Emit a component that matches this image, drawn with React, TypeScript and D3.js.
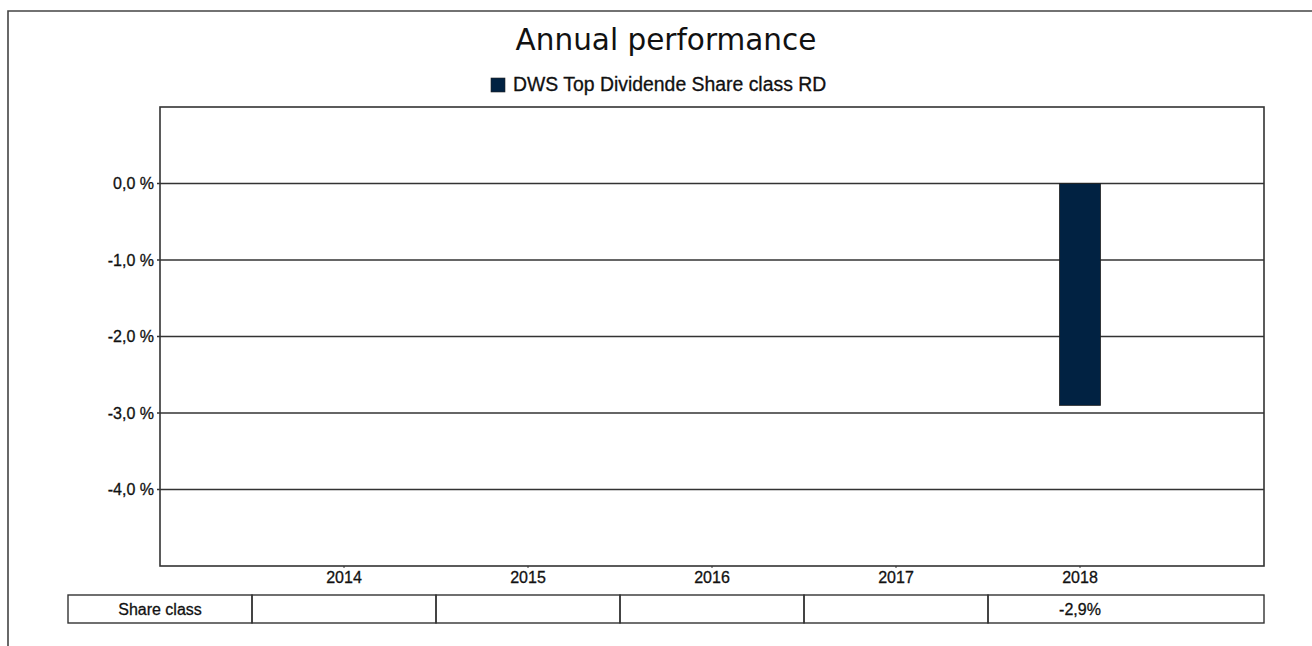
import { useEffect, useRef } from "react";
import * as d3 from "d3";

const years = ["2014", "2015", "2016", "2017", "2018"];
const shareClass: (number | null)[] = [null, null, null, null, -2.9];
const yTicks = [0, -1, -2, -3, -4];
const yDomain: [number, number] = [-5, 1];
const seriesName = "DWS Top Dividende Share class RD";
const rowLabel = "Share class";
const title = "Annual performance";

const W = 1312;
const H = 646;

export default function App() {
  const svgRef = useRef<SVGSVGElement>(null);

  useEffect(() => {
    if (!svgRef.current) return;
    const svg = d3.select(svgRef.current);
    svg.selectAll("*").remove();

    const plot = { left: 160, right: 1264, top: 107, bottom: 566 };
    const arial = "'Liberation Sans', Arial, sans-serif";
    const barColor = "#012242";
    const lineColor = "#333";
    const textColor = "#111";

    const x = d3.scalePoint<string>().domain(years).range([plot.left, plot.right]).padding(1);
    const step = x.step();
    const y = d3.scaleLinear().domain(yDomain).range([plot.bottom, plot.top]);

    // outer frame (top + left only)
    svg.append("path")
      .attr("d", `M8,${H} V11 H${W}`)
      .attr("fill", "none")
      .attr("stroke", "#444")
      .attr("stroke-width", 1.6);

    svg.append("text")
      .attr("x", 666)
      .attr("y", 50)
      .attr("text-anchor", "middle")
      .attr("font-family", "'DejaVu Sans', Verdana, sans-serif")
      .attr("font-size", 29.5)
      .attr("fill", textColor)
      .text(title);

    // legend
    svg.append("rect")
      .attr("x", 491).attr("y", 78).attr("width", 14).attr("height", 14)
      .attr("fill", barColor).attr("stroke", "#222").attr("stroke-width", 0.6);
    svg.append("text")
      .attr("x", 513).attr("y", 91)
      .attr("font-family", arial).attr("font-size", 19.4).attr("fill", textColor)
      .attr("stroke", textColor).attr("stroke-width", 0.3)
      .text(seriesName);

    // gridlines + y labels
    const yAxis = svg.append("g");
    yAxis.selectAll("line")
      .data(yTicks)
      .enter()
      .append("line")
      .attr("x1", plot.left - 3)
      .attr("x2", plot.right)
      .attr("y1", (d) => y(d))
      .attr("y2", (d) => y(d))
      .attr("stroke", lineColor)
      .attr("stroke-width", 1.4);
    yAxis.selectAll("text")
      .data(yTicks)
      .enter()
      .append("text")
      .attr("x", plot.left - 6)
      .attr("y", (d) => y(d))
      .attr("dy", "0.35em")
      .attr("text-anchor", "end")
      .attr("font-family", arial)
      .attr("font-size", 16)
      .attr("fill", textColor)
      .attr("stroke", textColor)
      .attr("stroke-width", 0.3)
      .text((d) => d3.format(".1f")(d).replace("−", "-").replace(".", ",") + " %");

    // plot frame
    svg.append("rect")
      .attr("x", plot.left).attr("y", plot.top)
      .attr("width", plot.right - plot.left).attr("height", plot.bottom - plot.top)
      .attr("fill", "none").attr("stroke", lineColor).attr("stroke-width", 1.6);

    // bars
    const barW = 41;
    svg.append("g")
      .selectAll("rect")
      .data(years.map((yr, i) => ({ yr, v: shareClass[i] })).filter((d) => d.v != null))
      .enter()
      .append("rect")
      .attr("x", (d) => (x(d.yr) as number) - barW / 2)
      .attr("y", (d) => Math.min(y(0), y(d.v as number)))
      .attr("width", barW)
      .attr("height", (d) => Math.abs(y(d.v as number) - y(0)))
      .attr("fill", barColor)
      .attr("stroke", "#222")
      .attr("stroke-width", 0.8);

    // x labels + ticks
    const xAxis = svg.append("g");
    xAxis.selectAll("line")
      .data(years)
      .enter()
      .append("line")
      .attr("x1", (d) => x(d) as number)
      .attr("x2", (d) => x(d) as number)
      .attr("y1", plot.bottom)
      .attr("y2", plot.bottom + 2)
      .attr("stroke", lineColor);
    xAxis.selectAll("text")
      .data(years)
      .enter()
      .append("text")
      .attr("x", (d) => x(d) as number)
      .attr("y", 583)
      .attr("text-anchor", "middle")
      .attr("font-family", arial)
      .attr("font-size", 16)
      .attr("fill", textColor)
      .attr("stroke", textColor)
      .attr("stroke-width", 0.3)
      .text((d) => d);

    // data table
    const rowTop = 595;
    const rowH = 28;
    const cells = [
      { x0: plot.left - step / 2, x1: plot.left + step / 2, cx: plot.left, label: rowLabel },
      ...years.map((yr, i) => {
        const cx = x(yr) as number;
        const v = shareClass[i];
        return {
          x0: cx - step / 2,
          x1: i === years.length - 1 ? plot.right : cx + step / 2,
          cx,
          label: v == null ? "" : v.toFixed(1).replace(".", ",") + "%",
        };
      }),
    ];
    const table = svg.append("g");
    table.selectAll("rect")
      .data(cells)
      .enter()
      .append("rect")
      .attr("x", (d) => d.x0)
      .attr("y", rowTop)
      .attr("width", (d) => d.x1 - d.x0)
      .attr("height", rowH)
      .attr("fill", "none")
      .attr("stroke", lineColor)
      .attr("stroke-width", 1.4);
    table.selectAll("text")
      .data(cells)
      .enter()
      .append("text")
      .attr("x", (d) => d.cx)
      .attr("y", rowTop + 20)
      .attr("text-anchor", "middle")
      .attr("font-family", arial)
      .attr("font-size", 16)
      .attr("fill", textColor)
      .attr("stroke", textColor)
      .attr("stroke-width", 0.3)
      .text((d) => d.label);
  }, []);

  return (
    <svg
      ref={svgRef}
      width={W}
      height={H}
      style={{ position: "absolute", left: 0, top: 0, background: "#fff" }}
    />
  );
}
